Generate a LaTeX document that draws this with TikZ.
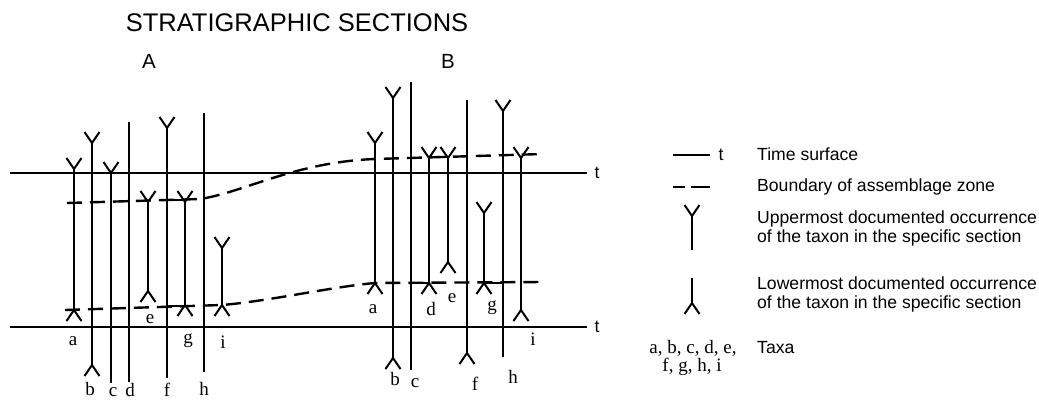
\documentclass[tikz,border=0pt]{standalone}
\usepackage{fontspec}
\setmainfont{Liberation Serif}
\setsansfont{Liberation Sans}
\newcommand\tY[2]{\draw[taxon] ({#1-7.5},{#2}) -- (#1,{#2+11}) -- ({#1+7.5},{#2});}
\newcommand\tL[2]{\draw[taxon] ({#1-7.5},{#2+11}) -- (#1,{#2}) -- ({#1+7.5},{#2+11});}
\newcommand\vl[3]{\draw[taxon] (#1,#2) -- (#1,#3);}
\begin{document}
\begin{tikzpicture}[x=1pt,y=-1pt,
  taxon/.style={line width=2pt, line join=miter},
  plainline/.style={line width=1.5pt},
  tline/.style={line width=1.2pt},
  zone/.style={line width=2.4pt, dash pattern=on 15pt off 8pt},
  zonesolid/.style={line width=2.4pt},
  lbl/.style={font=\fontsize{19}{19}\selectfont, anchor=base, inner sep=0pt},
  tlab/.style={font=\sffamily\fontsize{17.6}{20}\selectfont, anchor=base, inner sep=0pt},
  legtext/.style={font=\sffamily\fontsize{17.6}{19}\selectfont, anchor=base west, inner sep=0pt, align=left}]
\useasboundingbox (0,0) rectangle (1039,400);

% titles
\node[font=\sffamily\fontsize{25.5}{25.5}\selectfont, anchor=base, inner sep=0pt] (title) at (297,31) {STRATIGRAPHIC SECTIONS};
\node[font=\sffamily\fontsize{20.5}{20.5}\selectfont, anchor=base, inner sep=0pt] (secA) at (149,68) {A};
\node[font=\sffamily\fontsize{20.5}{20.5}\selectfont, anchor=base, inner sep=0pt] (secB) at (448,68) {B};

% time surfaces
\coordinate (tul) at (10,173); \coordinate (tur) at (587,173);
\coordinate (tll) at (10,327); \coordinate (tlr) at (587,327);
\draw[tline] (tul) -- (tur);
\draw[tline] (tll) -- (tlr);
\node[tlab] (tu) at (597,178) {t};
\node[tlab] (tl) at (597,332) {t};

% assemblage zone boundaries
\draw[zone] (67,203) -- (200,199) .. controls (245,192) and (295,162) .. (375,159) -- (543,154);
\draw[zone] (65,310) -- (222,305) .. controls (270,301) and (330,287) .. (375,283) -- (543,282);
\draw[zonesolid] (167,200) -- (185,200);
\draw[zonesolid] (167,306) -- (185,306);
\draw[zonesolid] (429,157) -- (448,157);
\draw[zonesolid] (411,283) -- (429,283);
\draw[zonesolid] (484,283) -- (503,283);

% section A
\vl{74}{169}{310} \tY{74}{158} \tL{74}{310}
\vl{92}{143}{365} \tY{92}{132} \tL{92}{365}
\vl{111}{173}{383} \tY{111}{162}
\draw[plainline] (129,122) -- (129,382);
\vl{148}{202}{291} \tY{148}{191} \tL{148}{291}
\vl{167}{128}{378} \tY{167}{117}
\vl{185}{202}{305} \tY{185}{191} \tL{185}{305}
\draw[plainline] (204,113) -- (204,372);
\vl{222}{248}{305} \tY{222}{237} \tL{222}{305}

\node[lbl] (Aa) at (73,345) {a};
\node[lbl] (Ab) at (90,395) {b};
\node[lbl] (Ac) at (113,396) {c};
\node[lbl] (Ad) at (130,396) {d};
\node[lbl] (Ae) at (150,323) {e};
\node[lbl] (Af) at (167,396) {f};
\node[lbl] (Ag) at (188,343) {g};
\node[lbl] (Ah) at (204,395) {h};
\node[lbl] (Ai) at (223,348) {i};

% section B
\vl{375}{143}{283} \tY{375}{132} \tL{375}{283}
\vl{393}{98}{358} \tY{393}{87} \tL{393}{358}
\draw[plainline] (411,82) -- (411,370);
\vl{429}{158}{283} \tY{429}{147} \tL{429}{283}
\vl{448}{158}{262} \tY{448}{147} \tL{448}{262}
\vl{467}{100}{353} \tL{467}{353}
\vl{484}{213}{283} \tY{484}{202} \tL{484}{283}
\vl{503}{111}{357} \tY{503}{100}
\vl{521}{158}{310} \tY{521}{147} \tL{521}{310}

\node[lbl] (Ba) at (373,313) {a};
\node[lbl] (Bb) at (395,385) {b};
\node[lbl] (Bc) at (415,387) {c};
\node[lbl] (Bd) at (431,315) {d};
\node[lbl] (Be) at (452,302) {e};
\node[lbl] (Bf) at (475,390) {f};
\node[lbl] (Bg) at (492,310) {g};
\node[lbl] (Bh) at (513,383) {h};
\node[lbl] (Bi) at (533,345) {i};

% legend
\draw[tline] (673,155) -- (710,155);
\node[tlab] (legt) at (721,160) {t};
\node[legtext] (leg1) at (757,160) {Time surface};
\draw[zonesolid] (673,187) -- (685,187);
\draw[zonesolid] (691,187) -- (710,187);
\node[legtext] (leg2) at (757,191) {Boundary of assemblage zone};
\draw[taxon] (692,216) -- (692,250); \tY{692}{205}
\node[legtext] (leg3) at (757,242) {Uppermost documented occurrence\\of the taxon in the specific section};
\draw[taxon] (692,278) -- (692,303); \tL{692}{303}
\node[legtext] (leg4) at (757,308) {Lowermost documented occurrence\\of the taxon in the specific section};
\node[lbl] (taxa1) at (693,353) {a, b, c, d, e,};
\node[lbl] (taxa2) at (692,371) {f, g, h, i};
\node[legtext] (leg5) at (757,353) {Taxa};
\end{tikzpicture}
\end{document}
